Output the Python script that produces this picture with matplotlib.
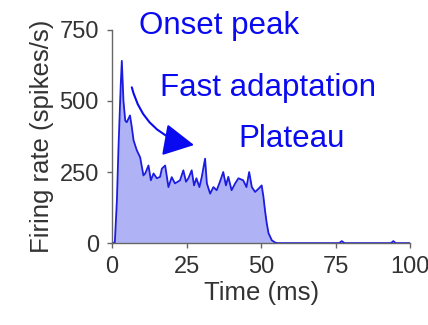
import matplotlib
matplotlib.use("Agg")
import matplotlib.pyplot as plt

plt.rcParams['font.family'] = ['Liberation Sans', 'DejaVu Sans']

# PSTH (time in ms, rate in spikes/s)
time_ms = [0, 0.9, 1.6, 2.1, 2.9, 3.25, 3.8, 4.4, 4.9, 6.0, 6.6, 7.2, 8.3, 9.4,
           10.5, 11.1, 12.2, 13.0, 13.9, 15.0, 16.1, 16.7, 17.8, 18.9, 20.0,
           21.1, 22.8, 23.9, 24.8, 25.6, 26.7, 27.5, 28.3, 29.3, 30.1, 31.2,
           31.8, 32.9, 34.0, 35.1, 36.2, 37.3, 38.2, 39.0, 40.1, 41.3, 42.4,
           44.0, 45.1, 46.0, 46.9, 48.0, 49.2, 50.2, 50.8, 51.3, 51.9, 52.5,
           53.6, 54.7, 55.5, 76.2, 77.1, 78.0, 93.6, 94.4, 95.2, 100]
rate = [0, 2, 150, 326, 560, 641, 500, 431, 425, 449, 408, 361, 326, 302,
        238, 245, 273, 221, 245, 228, 233, 262, 273, 197, 232,
        210, 221, 256, 216, 228, 256, 203, 228, 197, 233, 297,
        210, 174, 197, 186, 216, 250, 203, 233, 186, 210, 228,
        221, 197, 250, 197, 180, 192, 203, 162, 116, 70, 35,
        10, 2, 0, 0, 7, 0, 0, 7, 0, 0]

x_ticks = [0, 25, 50, 75, 100]
y_ticks = [0, 250, 500, 750]

line_col = "#1c1ce0"
fill_col = "#b0b2f6"
text_col = "#0a0af0"
axis_col = "#666666"

fig = plt.figure(figsize=(4.28, 3.25), dpi=100)
ax = fig.add_axes([0.262, 0.252, 0.696, 0.656])

ax.fill_between(time_ms, rate, 0, color=fill_col, linewidth=0)
ax.plot(time_ms, rate, color=line_col, linewidth=1.3)

ax.set_xlim(0, 100)
ax.set_ylim(0, 750)
ax.set_xticks(x_ticks)
ax.set_yticks(y_ticks)

for s in ["top", "right"]:
    ax.spines[s].set_visible(False)
for s in ["left", "bottom"]:
    ax.spines[s].set_color(axis_col)
    ax.spines[s].set_linewidth(1.0)
ax.tick_params(direction="out", length=3.5, width=1.0, color=axis_col,
               labelsize=17, labelcolor="#333333", pad=6)

ax.set_xlabel("Time (ms)", fontsize=18.5, color="#333333", labelpad=2)
ax.set_ylabel("Firing rate (spikes/s)", fontsize=18.5, color="#333333", labelpad=4)

# annotations
ax.text(9.1, 736, "Onset peak", fontsize=22.5, color=text_col,
        va="baseline", ha="left", clip_on=False)
ax.text(16.1, 516, "Fast adaptation", fontsize=22.5, color=text_col,
        va="baseline", ha="left")
ax.text(42.3, 337, "Plateau", fontsize=22.5, color=text_col,
        va="baseline", ha="left")
ax.annotate("", xy=(27.5, 345), xytext=(6.6, 548),
            arrowprops=dict(arrowstyle="-|>,head_length=1.9,head_width=1.0",
                            mutation_scale=10, color=text_col, linewidth=1.5,
                            shrinkA=0, shrinkB=0,
                            connectionstyle="arc3,rad=0.32"))

fig.savefig("out.png", dpi=100)
